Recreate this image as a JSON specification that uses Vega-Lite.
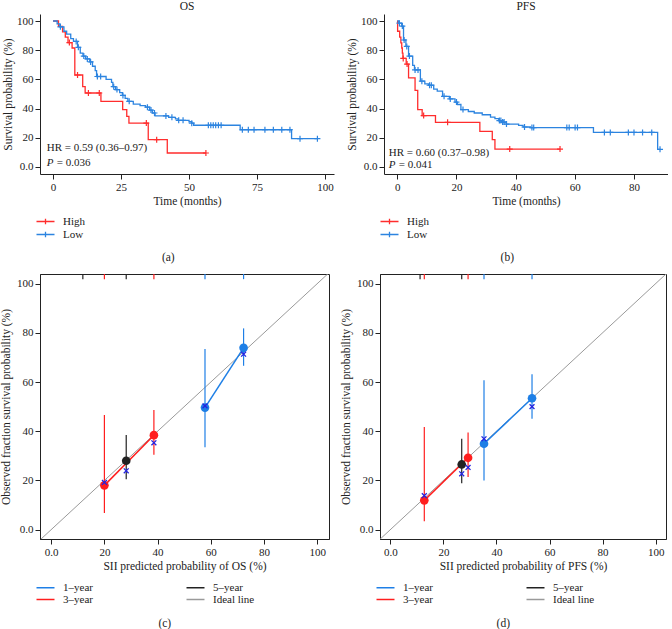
{
"$schema": "https://vega.github.io/schema/vega-lite/v6.json",
"padding": {"left": 0, "top": 0, "right": 0, "bottom": 0},
"config": {
 "font": "Liberation Serif",
 "view": {"stroke": null},
 "axis": {"labelFontSize": 11, "titleFontSize": 11.5, "titleFontWeight": "normal", "labelColor": "#222", "titleColor": "#222", "domainColor": "#222", "tickColor": "#222", "grid": false, "tickSize": 5, "labelPadding": 2, "titlePadding": 3, "labelFlush": false, "labelOverlap": false},
 "legend": {"labelFontSize": 11, "labelColor": "#222"},
 "title": {"fontSize": 11.5, "fontWeight": "normal", "color": "#222"},
 "text": {"font": "Liberation Serif"}
},
"datasets": {
 "km": [
  {"panel":"OS","group":"High","kind":"step","time":0,"surv":100},
  {"panel":"OS","group":"High","kind":"step","time":2,"surv":96.3},
  {"panel":"OS","group":"High","kind":"step","time":3.5,"surv":92.6},
  {"panel":"OS","group":"High","kind":"step","time":4.5,"surv":88.9},
  {"panel":"OS","group":"High","kind":"step","time":5.5,"surv":85.2},
  {"panel":"OS","group":"High","kind":"step","time":7,"surv":81.5},
  {"panel":"OS","group":"High","kind":"step","time":8,"surv":63},
  {"panel":"OS","group":"High","kind":"step","time":10.9,"surv":55},
  {"panel":"OS","group":"High","kind":"step","time":11.8,"surv":50.7},
  {"panel":"OS","group":"High","kind":"step","time":17.6,"surv":45},
  {"panel":"OS","group":"High","kind":"step","time":25.6,"surv":39.3},
  {"panel":"OS","group":"High","kind":"step","time":27.1,"surv":34.7},
  {"panel":"OS","group":"High","kind":"step","time":27.9,"surv":30.1},
  {"panel":"OS","group":"High","kind":"step","time":35,"surv":18.7},
  {"panel":"OS","group":"High","kind":"step","time":42,"surv":9.6},
  {"panel":"OS","group":"High","kind":"step","time":56.2,"surv":9.6},
  {"panel":"OS","group":"High","kind":"censor","time":6,"surv":85.2},
  {"panel":"OS","group":"High","kind":"censor","time":9,"surv":63},
  {"panel":"OS","group":"High","kind":"censor","time":13,"surv":50.7},
  {"panel":"OS","group":"High","kind":"censor","time":17,"surv":50.7},
  {"panel":"OS","group":"High","kind":"censor","time":34.3,"surv":30.1},
  {"panel":"OS","group":"High","kind":"censor","time":38.1,"surv":18.7},
  {"panel":"OS","group":"High","kind":"censor","time":56.2,"surv":9.6},
  {"panel":"OS","group":"Low","kind":"step","time":0,"surv":100},
  {"panel":"OS","group":"Low","kind":"step","time":1.5,"surv":98},
  {"panel":"OS","group":"Low","kind":"step","time":2.5,"surv":96},
  {"panel":"OS","group":"Low","kind":"step","time":4,"surv":93},
  {"panel":"OS","group":"Low","kind":"step","time":5,"surv":91},
  {"panel":"OS","group":"Low","kind":"step","time":6.5,"surv":88},
  {"panel":"OS","group":"Low","kind":"step","time":7.5,"surv":86},
  {"panel":"OS","group":"Low","kind":"step","time":9,"surv":82},
  {"panel":"OS","group":"Low","kind":"step","time":10,"surv":78},
  {"panel":"OS","group":"Low","kind":"step","time":11,"surv":76},
  {"panel":"OS","group":"Low","kind":"step","time":12,"surv":74},
  {"panel":"OS","group":"Low","kind":"step","time":13.5,"surv":72},
  {"panel":"OS","group":"Low","kind":"step","time":14.5,"surv":69},
  {"panel":"OS","group":"Low","kind":"step","time":15.5,"surv":66},
  {"panel":"OS","group":"Low","kind":"step","time":16,"surv":62},
  {"panel":"OS","group":"Low","kind":"step","time":19.5,"surv":60},
  {"panel":"OS","group":"Low","kind":"step","time":21.5,"surv":58},
  {"panel":"OS","group":"Low","kind":"step","time":22,"surv":55},
  {"panel":"OS","group":"Low","kind":"step","time":23,"surv":53},
  {"panel":"OS","group":"Low","kind":"step","time":24.5,"surv":51},
  {"panel":"OS","group":"Low","kind":"step","time":25.5,"surv":49},
  {"panel":"OS","group":"Low","kind":"step","time":26.5,"surv":47},
  {"panel":"OS","group":"Low","kind":"step","time":27.5,"surv":45},
  {"panel":"OS","group":"Low","kind":"step","time":29.5,"surv":43},
  {"panel":"OS","group":"Low","kind":"step","time":32,"surv":42},
  {"panel":"OS","group":"Low","kind":"step","time":34,"surv":41},
  {"panel":"OS","group":"Low","kind":"step","time":35.5,"surv":39},
  {"panel":"OS","group":"Low","kind":"step","time":36.5,"surv":37},
  {"panel":"OS","group":"Low","kind":"step","time":37.5,"surv":35},
  {"panel":"OS","group":"Low","kind":"step","time":42.5,"surv":34},
  {"panel":"OS","group":"Low","kind":"step","time":45,"surv":33},
  {"panel":"OS","group":"Low","kind":"step","time":46,"surv":32},
  {"panel":"OS","group":"Low","kind":"step","time":50,"surv":31},
  {"panel":"OS","group":"Low","kind":"step","time":51,"surv":30},
  {"panel":"OS","group":"Low","kind":"step","time":51.7,"surv":28.6},
  {"panel":"OS","group":"Low","kind":"step","time":68.8,"surv":25.5},
  {"panel":"OS","group":"Low","kind":"step","time":87.7,"surv":19.4},
  {"panel":"OS","group":"Low","kind":"step","time":97.2,"surv":19.4},
  {"panel":"OS","group":"Low","kind":"censor","time":2.7,"surv":96},
  {"panel":"OS","group":"Low","kind":"censor","time":8.5,"surv":86},
  {"panel":"OS","group":"Low","kind":"censor","time":9.3,"surv":82},
  {"panel":"OS","group":"Low","kind":"censor","time":11.3,"surv":76},
  {"panel":"OS","group":"Low","kind":"censor","time":12.6,"surv":74},
  {"panel":"OS","group":"Low","kind":"censor","time":13.8,"surv":72},
  {"panel":"OS","group":"Low","kind":"censor","time":16.3,"surv":62},
  {"panel":"OS","group":"Low","kind":"censor","time":17.5,"surv":62},
  {"panel":"OS","group":"Low","kind":"censor","time":22.3,"surv":55},
  {"panel":"OS","group":"Low","kind":"censor","time":23.5,"surv":53},
  {"panel":"OS","group":"Low","kind":"censor","time":25.7,"surv":49},
  {"panel":"OS","group":"Low","kind":"censor","time":28,"surv":45},
  {"panel":"OS","group":"Low","kind":"censor","time":34.7,"surv":41},
  {"panel":"OS","group":"Low","kind":"censor","time":36,"surv":39},
  {"panel":"OS","group":"Low","kind":"censor","time":37.3,"surv":37},
  {"panel":"OS","group":"Low","kind":"censor","time":41.5,"surv":35},
  {"panel":"OS","group":"Low","kind":"censor","time":43.7,"surv":34},
  {"panel":"OS","group":"Low","kind":"censor","time":46.2,"surv":32},
  {"panel":"OS","group":"Low","kind":"censor","time":47.8,"surv":32},
  {"panel":"OS","group":"Low","kind":"censor","time":51,"surv":30},
  {"panel":"OS","group":"Low","kind":"censor","time":57.1,"surv":28.6},
  {"panel":"OS","group":"Low","kind":"censor","time":58,"surv":28.6},
  {"panel":"OS","group":"Low","kind":"censor","time":58.9,"surv":28.6},
  {"panel":"OS","group":"Low","kind":"censor","time":59.8,"surv":28.6},
  {"panel":"OS","group":"Low","kind":"censor","time":60.8,"surv":28.6},
  {"panel":"OS","group":"Low","kind":"censor","time":61.8,"surv":28.6},
  {"panel":"OS","group":"Low","kind":"censor","time":69.6,"surv":25.5},
  {"panel":"OS","group":"Low","kind":"censor","time":71.8,"surv":25.5},
  {"panel":"OS","group":"Low","kind":"censor","time":73.9,"surv":25.5},
  {"panel":"OS","group":"Low","kind":"censor","time":77.9,"surv":25.5},
  {"panel":"OS","group":"Low","kind":"censor","time":81,"surv":25.5},
  {"panel":"OS","group":"Low","kind":"censor","time":84.1,"surv":25.5},
  {"panel":"OS","group":"Low","kind":"censor","time":87.1,"surv":25.5},
  {"panel":"OS","group":"Low","kind":"censor","time":90.8,"surv":19.4},
  {"panel":"OS","group":"Low","kind":"censor","time":97.2,"surv":19.4},
  {"panel":"PFS","group":"High","kind":"step","time":0,"surv":100},
  {"panel":"PFS","group":"High","kind":"step","time":0.1,"surv":93},
  {"panel":"PFS","group":"High","kind":"step","time":0.8,"surv":89},
  {"panel":"PFS","group":"High","kind":"step","time":1.2,"surv":85},
  {"panel":"PFS","group":"High","kind":"step","time":1.5,"surv":81.5},
  {"panel":"PFS","group":"High","kind":"step","time":1.7,"surv":78},
  {"panel":"PFS","group":"High","kind":"step","time":1.9,"surv":74.4},
  {"panel":"PFS","group":"High","kind":"step","time":3,"surv":70.5},
  {"panel":"PFS","group":"High","kind":"step","time":3.8,"surv":61},
  {"panel":"PFS","group":"High","kind":"step","time":6,"surv":52.5},
  {"panel":"PFS","group":"High","kind":"step","time":6.9,"surv":39.3},
  {"panel":"PFS","group":"High","kind":"step","time":8.4,"surv":35.2},
  {"panel":"PFS","group":"High","kind":"step","time":12.9,"surv":30.6},
  {"panel":"PFS","group":"High","kind":"step","time":27.9,"surv":24.4},
  {"panel":"PFS","group":"High","kind":"step","time":32.1,"surv":18.7},
  {"panel":"PFS","group":"High","kind":"step","time":33,"surv":12.3},
  {"panel":"PFS","group":"High","kind":"step","time":55,"surv":12.3},
  {"panel":"PFS","group":"High","kind":"censor","time":2,"surv":74.4},
  {"panel":"PFS","group":"High","kind":"censor","time":3.3,"surv":70.5},
  {"panel":"PFS","group":"High","kind":"censor","time":8.9,"surv":35.2},
  {"panel":"PFS","group":"High","kind":"censor","time":17,"surv":30.6},
  {"panel":"PFS","group":"High","kind":"censor","time":38,"surv":12.3},
  {"panel":"PFS","group":"High","kind":"censor","time":55,"surv":12.3},
  {"panel":"PFS","group":"Low","kind":"step","time":0,"surv":100},
  {"panel":"PFS","group":"Low","kind":"step","time":0.5,"surv":98.5},
  {"panel":"PFS","group":"Low","kind":"step","time":1.5,"surv":96.5},
  {"panel":"PFS","group":"Low","kind":"step","time":2.1,"surv":87},
  {"panel":"PFS","group":"Low","kind":"step","time":2.9,"surv":82.6},
  {"panel":"PFS","group":"Low","kind":"step","time":3.8,"surv":76},
  {"panel":"PFS","group":"Low","kind":"step","time":5.2,"surv":69.6},
  {"panel":"PFS","group":"Low","kind":"step","time":5.8,"surv":66.5},
  {"panel":"PFS","group":"Low","kind":"step","time":7.8,"surv":58.8},
  {"panel":"PFS","group":"Low","kind":"step","time":9.3,"surv":57},
  {"panel":"PFS","group":"Low","kind":"step","time":10.5,"surv":56},
  {"panel":"PFS","group":"Low","kind":"step","time":12.3,"surv":53.4},
  {"panel":"PFS","group":"Low","kind":"step","time":13.5,"surv":52},
  {"panel":"PFS","group":"Low","kind":"step","time":15.3,"surv":48.4},
  {"panel":"PFS","group":"Low","kind":"step","time":17.6,"surv":46.6},
  {"panel":"PFS","group":"Low","kind":"step","time":19.5,"surv":44.5},
  {"panel":"PFS","group":"Low","kind":"step","time":20.3,"surv":42.8},
  {"panel":"PFS","group":"Low","kind":"step","time":21.5,"surv":39.3},
  {"panel":"PFS","group":"Low","kind":"step","time":24,"surv":38},
  {"panel":"PFS","group":"Low","kind":"step","time":26,"surv":37},
  {"panel":"PFS","group":"Low","kind":"step","time":28.7,"surv":35.8},
  {"panel":"PFS","group":"Low","kind":"step","time":31.5,"surv":34.2},
  {"panel":"PFS","group":"Low","kind":"step","time":33,"surv":33.2},
  {"panel":"PFS","group":"Low","kind":"step","time":34.3,"surv":31.8},
  {"panel":"PFS","group":"Low","kind":"step","time":35.3,"surv":30.8},
  {"panel":"PFS","group":"Low","kind":"step","time":36.8,"surv":29.4},
  {"panel":"PFS","group":"Low","kind":"step","time":41,"surv":28.5},
  {"panel":"PFS","group":"Low","kind":"step","time":42.5,"surv":27.4},
  {"panel":"PFS","group":"Low","kind":"step","time":45,"surv":27},
  {"panel":"PFS","group":"Low","kind":"step","time":66.3,"surv":23.7},
  {"panel":"PFS","group":"Low","kind":"step","time":88,"surv":12.1},
  {"panel":"PFS","group":"Low","kind":"step","time":89,"surv":12.1},
  {"panel":"PFS","group":"Low","kind":"censor","time":0.7,"surv":98.5},
  {"panel":"PFS","group":"Low","kind":"censor","time":1.7,"surv":96.5},
  {"panel":"PFS","group":"Low","kind":"censor","time":2.3,"surv":87},
  {"panel":"PFS","group":"Low","kind":"censor","time":3.2,"surv":82.6},
  {"panel":"PFS","group":"Low","kind":"censor","time":4.1,"surv":76},
  {"panel":"PFS","group":"Low","kind":"censor","time":6,"surv":66.5},
  {"panel":"PFS","group":"Low","kind":"censor","time":7,"surv":66.5},
  {"panel":"PFS","group":"Low","kind":"censor","time":8.3,"surv":58.8},
  {"panel":"PFS","group":"Low","kind":"censor","time":10.9,"surv":56},
  {"panel":"PFS","group":"Low","kind":"censor","time":11.5,"surv":56},
  {"panel":"PFS","group":"Low","kind":"censor","time":15.8,"surv":48.4},
  {"panel":"PFS","group":"Low","kind":"censor","time":17.9,"surv":46.6},
  {"panel":"PFS","group":"Low","kind":"censor","time":20,"surv":44.5},
  {"panel":"PFS","group":"Low","kind":"censor","time":22.2,"surv":39.3},
  {"panel":"PFS","group":"Low","kind":"censor","time":34.5,"surv":31.8},
  {"panel":"PFS","group":"Low","kind":"censor","time":35,"surv":31.8},
  {"panel":"PFS","group":"Low","kind":"censor","time":35.6,"surv":30.8},
  {"panel":"PFS","group":"Low","kind":"censor","time":36.1,"surv":30.8},
  {"panel":"PFS","group":"Low","kind":"censor","time":36.9,"surv":29.4},
  {"panel":"PFS","group":"Low","kind":"censor","time":43,"surv":27.4},
  {"panel":"PFS","group":"Low","kind":"censor","time":45.5,"surv":27},
  {"panel":"PFS","group":"Low","kind":"censor","time":46.1,"surv":27},
  {"panel":"PFS","group":"Low","kind":"censor","time":57.3,"surv":27},
  {"panel":"PFS","group":"Low","kind":"censor","time":58.1,"surv":27},
  {"panel":"PFS","group":"Low","kind":"censor","time":60.1,"surv":27},
  {"panel":"PFS","group":"Low","kind":"censor","time":60.9,"surv":27},
  {"panel":"PFS","group":"Low","kind":"censor","time":70,"surv":23.7},
  {"panel":"PFS","group":"Low","kind":"censor","time":72,"surv":23.7},
  {"panel":"PFS","group":"Low","kind":"censor","time":78.1,"surv":23.7},
  {"panel":"PFS","group":"Low","kind":"censor","time":80,"surv":23.7},
  {"panel":"PFS","group":"Low","kind":"censor","time":82.9,"surv":23.7},
  {"panel":"PFS","group":"Low","kind":"censor","time":86,"surv":23.7},
  {"panel":"PFS","group":"Low","kind":"censor","time":88.8,"surv":12.1}
 ],
 "cal": [
  {"panel":"c","s":"1–year","pred":57.8,"obs":49.6,"lo":33.5,"hi":73.4,"km":50.3},
  {"panel":"c","s":"1–year","pred":72.3,"obs":73.9,"lo":66.6,"hi":81.8,"km":71.3},
  {"panel":"c","s":"3–year","pred":20.0,"obs":18.0,"lo":6.8,"hi":46.6,"km":19.2},
  {"panel":"c","s":"3–year","pred":38.6,"obs":38.4,"lo":30.4,"hi":48.6,"km":35.3},
  {"panel":"c","s":"5–year","pred":28.2,"obs":28.0,"lo":20.5,"hi":38.5,"km":23.9},
  {"panel":"c","s":"5–year","pred":11.9,"obs":null,"lo":null,"hi":null,"km":null},
  {"panel":"d","s":"1–year","pred":35.3,"obs":34.9,"lo":20.0,"hi":60.7,"km":36.9},
  {"panel":"d","s":"1–year","pred":53.4,"obs":53.4,"lo":45.1,"hi":63.2,"km":50.0},
  {"panel":"d","s":"3–year","pred":12.8,"obs":11.9,"lo":3.4,"hi":41.7,"km":13.8},
  {"panel":"d","s":"3–year","pred":29.3,"obs":29.2,"lo":21.4,"hi":39.5,"km":25.3},
  {"panel":"d","s":"5–year","pred":26.9,"obs":26.5,"lo":18.9,"hi":36.9,"km":22.7},
  {"panel":"d","s":"5–year","pred":11.2,"obs":null,"lo":null,"hi":null,"km":null}
 ],
 "ideal": [
  {"s":"Ideal line","pred":-10,"obs":-10},
  {"s":"Ideal line","pred":110,"obs":110}
 ],
 "notes": [
  {"panel":"OS","hr":"HR = 0.59 (0.36–0.97)","pv":"= 0.036","time":-2.3,"y1":13.2,"y2":2.7},
  {"panel":"PFS","hr":"HR = 0.60 (0.37–0.98)","pv":"= 0.041","time":-2.9,"y1":9.8,"y2":1.4}
 ]
},
"resolve": {"scale": {"color": "independent", "x": "independent", "y": "independent"}, "legend": {"color": "independent"}},
"spacing": 8,
"vconcat": [
 {
  "spacing": 12,
  "resolve": {"scale": {"color": "independent", "x": "independent", "y": "independent"}, "legend": {"color": "independent"}},
  "hconcat": [
   {
    "title": {"text": "(a)", "orient": "bottom", "offset": 12, "anchor": "middle", "frame": "bounds"},
    "resolve": {"scale": {"color": "independent"}, "legend": {"color": "independent"}},
    "vconcat": [{
     "title": {"text": "OS", "frame": "group", "offset": 2},
     "width": 294, "height": 160,
     "layer": [
      {"data": {"name": "km"}, "transform": [{"filter": "datum.panel == 'OS' && datum.kind == 'step'"}],
       "mark": {"type": "line", "interpolate": "step-after", "strokeWidth": 1.3},
       "encoding": {
        "x": {"field": "time", "type": "quantitative", "title": "Time (months)", "scale": {"domain": [-4.8, 103.3], "nice": false, "zero": false}, "axis": {"values": [0, 25, 50, 75, 100], "labelOverlap": false}},
        "y": {"field": "surv", "type": "quantitative", "title": "Survival probability (%)", "scale": {"domain": [-4.8, 104.8], "nice": false, "zero": false}, "axis": {"values": [0, 20, 40, 60, 80, 100], "labelOverlap": false, "labelExpr": "datum.value == 0 ? '0.0' : datum.label"}},
        "color": {"field": "group", "type": "nominal", "scale": {"domain": ["High", "Low"], "range": ["#FF2D2D", "#2C84E0"]},
         "legend": {"orient": "bottom", "direction": "vertical", "title": null, "symbolType": "M-2,0L2,0M0,-0.6L0,0.6", "symbolSize": 81, "symbolStrokeWidth": 1.3, "labelOffset": 12, "rowPadding": 1, "offset": 9}}
       }},
      {"data": {"name": "km"}, "transform": [{"filter": "datum.panel == 'OS' && datum.kind == 'censor'"}],
       "mark": {"type": "point", "shape": "M-1,0L1,0M0,-1L0,1", "size": 36, "filled": false, "strokeWidth": 1.2, "opacity": 1},
       "encoding": {
        "x": {"field": "time", "type": "quantitative", "title": "Time (months)", "axis": {"values": [0, 25, 50, 75, 100], "labelOverlap": false}},
        "y": {"field": "surv", "type": "quantitative", "title": "Survival probability (%)", "axis": {"values": [0, 20, 40, 60, 80, 100], "labelOverlap": false, "labelExpr": "datum.value == 0 ? '0.0' : datum.label"}},
        "color": {"field": "group", "type": "nominal"}
       }},
      {"data": {"name": "notes"}, "transform": [{"filter": "datum.panel == 'OS'"}],
       "mark": {"type": "text", "align": "left", "baseline": "middle", "fontSize": 11, "color": "#222"},
       "encoding": {"x": {"field": "time", "type": "quantitative", "title": "Time (months)", "axis": {"values": [0, 25, 50, 75, 100], "labelOverlap": false}}, "y": {"field": "y1", "type": "quantitative", "title": "Survival probability (%)", "axis": {"values": [0, 20, 40, 60, 80, 100], "labelOverlap": false, "labelExpr": "datum.value == 0 ? '0.0' : datum.label"}}, "text": {"field": "hr"}}},
      {"data": {"name": "notes"}, "transform": [{"filter": "datum.panel == 'OS'"}],
       "mark": {"type": "text", "align": "left", "baseline": "middle", "fontSize": 11, "fontStyle": "italic", "color": "#222"},
       "encoding": {"x": {"field": "time", "type": "quantitative", "title": "Time (months)", "axis": {"values": [0, 25, 50, 75, 100], "labelOverlap": false}}, "y": {"field": "y2", "type": "quantitative", "title": "Survival probability (%)", "axis": {"values": [0, 20, 40, 60, 80, 100], "labelOverlap": false, "labelExpr": "datum.value == 0 ? '0.0' : datum.label"}}, "text": {"value": "P"}}},
      {"data": {"name": "notes"}, "transform": [{"filter": "datum.panel == 'OS'"}],
       "mark": {"type": "text", "align": "left", "baseline": "middle", "fontSize": 11, "dx": 10, "color": "#222"},
       "encoding": {"x": {"field": "time", "type": "quantitative", "title": "Time (months)", "axis": {"values": [0, 25, 50, 75, 100], "labelOverlap": false}}, "y": {"field": "y2", "type": "quantitative", "title": "Survival probability (%)", "axis": {"values": [0, 20, 40, 60, 80, 100], "labelOverlap": false, "labelExpr": "datum.value == 0 ? '0.0' : datum.label"}}, "text": {"field": "pv"}}}
     ]
    }]
   },
   {
    "title": {"text": "(b)", "orient": "bottom", "offset": 12, "anchor": "middle", "frame": "bounds"},
    "resolve": {"scale": {"color": "independent"}, "legend": {"color": "independent"}},
    "vconcat": [{
     "title": {"text": "PFS", "frame": "group", "offset": 2},
     "width": 284, "height": 160,
     "layer": [
      {"data": {"name": "km"}, "transform": [{"filter": "datum.panel == 'PFS' && datum.kind == 'step'"}],
       "mark": {"type": "line", "interpolate": "step-after", "strokeWidth": 1.3},
       "encoding": {
        "x": {"field": "time", "type": "quantitative", "title": "Time (months)", "scale": {"domain": [-4.5, 91.5], "nice": false, "zero": false}, "axis": {"values": [0, 20, 40, 60, 80], "labelOverlap": false}},
        "y": {"field": "surv", "type": "quantitative", "title": "Survival probability (%)", "scale": {"domain": [-4.8, 104.8], "nice": false, "zero": false}, "axis": {"values": [0, 20, 40, 60, 80, 100], "labelOverlap": false, "labelExpr": "datum.value == 0 ? '0.0' : datum.label"}},
        "color": {"field": "group", "type": "nominal", "scale": {"domain": ["High", "Low"], "range": ["#FF2D2D", "#2C84E0"]},
         "legend": {"orient": "bottom", "direction": "vertical", "title": null, "symbolType": "M-2,0L2,0M0,-0.6L0,0.6", "symbolSize": 81, "symbolStrokeWidth": 1.3, "labelOffset": 12, "rowPadding": 1, "offset": 9}}
       }},
      {"data": {"name": "km"}, "transform": [{"filter": "datum.panel == 'PFS' && datum.kind == 'censor'"}],
       "mark": {"type": "point", "shape": "M-1,0L1,0M0,-1L0,1", "size": 36, "filled": false, "strokeWidth": 1.2, "opacity": 1},
       "encoding": {
        "x": {"field": "time", "type": "quantitative", "title": "Time (months)", "axis": {"values": [0, 20, 40, 60, 80], "labelOverlap": false}},
        "y": {"field": "surv", "type": "quantitative", "title": "Survival probability (%)", "axis": {"values": [0, 20, 40, 60, 80, 100], "labelOverlap": false, "labelExpr": "datum.value == 0 ? '0.0' : datum.label"}},
        "color": {"field": "group", "type": "nominal"}
       }},
      {"data": {"name": "notes"}, "transform": [{"filter": "datum.panel == 'PFS'"}],
       "mark": {"type": "text", "align": "left", "baseline": "middle", "fontSize": 11, "color": "#222"},
       "encoding": {"x": {"field": "time", "type": "quantitative", "title": "Time (months)", "axis": {"values": [0, 20, 40, 60, 80], "labelOverlap": false}}, "y": {"field": "y1", "type": "quantitative", "title": "Survival probability (%)", "axis": {"values": [0, 20, 40, 60, 80, 100], "labelOverlap": false, "labelExpr": "datum.value == 0 ? '0.0' : datum.label"}}, "text": {"field": "hr"}}},
      {"data": {"name": "notes"}, "transform": [{"filter": "datum.panel == 'PFS'"}],
       "mark": {"type": "text", "align": "left", "baseline": "middle", "fontSize": 11, "fontStyle": "italic", "color": "#222"},
       "encoding": {"x": {"field": "time", "type": "quantitative", "title": "Time (months)", "axis": {"values": [0, 20, 40, 60, 80], "labelOverlap": false}}, "y": {"field": "y2", "type": "quantitative", "title": "Survival probability (%)", "axis": {"values": [0, 20, 40, 60, 80, 100], "labelOverlap": false, "labelExpr": "datum.value == 0 ? '0.0' : datum.label"}}, "text": {"value": "P"}}},
      {"data": {"name": "notes"}, "transform": [{"filter": "datum.panel == 'PFS'"}],
       "mark": {"type": "text", "align": "left", "baseline": "middle", "fontSize": 11, "dx": 10, "color": "#222"},
       "encoding": {"x": {"field": "time", "type": "quantitative", "title": "Time (months)", "axis": {"values": [0, 20, 40, 60, 80], "labelOverlap": false}}, "y": {"field": "y2", "type": "quantitative", "title": "Survival probability (%)", "axis": {"values": [0, 20, 40, 60, 80, 100], "labelOverlap": false, "labelExpr": "datum.value == 0 ? '0.0' : datum.label"}}, "text": {"field": "pv"}}}
     ]
    }]
   }
  ]
 },
 {
  "spacing": 10,
  "resolve": {"scale": {"color": "independent", "x": "independent", "y": "independent"}, "legend": {"color": "independent"}},
  "hconcat": [
   {
    "title": {"text": "(c)", "orient": "bottom", "offset": 12, "anchor": "middle", "frame": "bounds"},
    "resolve": {"scale": {"color": "independent"}, "legend": {"color": "independent"}},
    "vconcat": [{
     "width": 289, "height": 265,
     "view": {"stroke": "#222", "strokeWidth": 1},
     "layer": [
      {"data": {"name": "ideal"},
       "mark": {"type": "line", "strokeWidth": 1, "clip": true},
       "encoding": {
        "x": {"field": "pred", "type": "quantitative", "title": "SII predicted probability of OS (%)", "scale": {"domain": [-4.2, 104.4], "nice": false, "zero": false}, "axis": {"values": [0, 20, 40, 60, 80, 100], "labelExpr": "datum.value == 0 ? '0.0' : datum.label"}},
        "y": {"field": "obs", "type": "quantitative", "title": "Observed fraction survival probability (%)", "scale": {"domain": [-3.8, 103.9], "nice": false, "zero": false}, "axis": {"values": [0, 20, 40, 60, 80, 100], "titlePadding": 5, "labelExpr": "datum.value == 0 ? '0.0' : datum.label"}},
        "color": {"field": "s", "type": "nominal", "scale": {"domain": ["1–year", "5–year", "3–year", "Ideal line"], "range": ["#1E7FE6", "#222222", "#FF1E1E", "#9A9A9A"]},
         "legend": {"orient": "bottom", "direction": "horizontal", "columns": 2, "columnPadding": 90, "title": null, "symbolType": "M-2,0L2,0", "symbolSize": 81, "symbolStrokeWidth": 1.5, "labelOffset": 12, "rowPadding": 0, "offset": 10}}
       }},
      {"data": {"name": "cal"}, "transform": [{"filter": "datum.panel == 'c'"}],
       "mark": {"type": "rule", "strokeWidth": 1.2},
       "encoding": {
        "x": {"field": "pred", "type": "quantitative", "title": "SII predicted probability of OS (%)"},
        "y": {"datum": 103.9, "type": "quantitative", "title": "Observed fraction survival probability (%)"},
        "y2": {"datum": 101.8},
        "color": {"field": "s", "type": "nominal"}
       }},
      {"data": {"name": "cal"}, "transform": [{"filter": "datum.panel == 'c' && isValid(datum.obs)"}],
       "mark": {"type": "rule", "strokeWidth": 1.2},
       "encoding": {
        "x": {"field": "pred", "type": "quantitative", "title": "SII predicted probability of OS (%)"},
        "y": {"field": "lo", "type": "quantitative", "title": "Observed fraction survival probability (%)"},
        "y2": {"field": "hi"},
        "color": {"field": "s", "type": "nominal"}
       }},
      {"data": {"name": "cal"}, "transform": [{"filter": "datum.panel == 'c' && isValid(datum.obs)"}],
       "mark": {"type": "line", "strokeWidth": 1.5},
       "encoding": {
        "x": {"field": "pred", "type": "quantitative", "title": "SII predicted probability of OS (%)"},
        "y": {"field": "obs", "type": "quantitative", "title": "Observed fraction survival probability (%)"},
        "color": {"field": "s", "type": "nominal"}
       }},
      {"data": {"name": "cal"}, "transform": [{"filter": "datum.panel == 'c' && isValid(datum.obs)"}],
       "mark": {"type": "point", "filled": true, "size": 75, "opacity": 1},
       "encoding": {
        "x": {"field": "pred", "type": "quantitative", "title": "SII predicted probability of OS (%)"},
        "y": {"field": "obs", "type": "quantitative", "title": "Observed fraction survival probability (%)"},
        "color": {"field": "s", "type": "nominal"}
       }},
      {"data": {"name": "cal"}, "transform": [{"filter": "datum.panel == 'c' && isValid(datum.obs)"}],
       "mark": {"type": "point", "shape": "M-1,-1L1,1M-1,1L1,-1", "filled": false, "size": 24, "strokeWidth": 1.3, "color": "#2424E0", "opacity": 1},
       "encoding": {
        "x": {"field": "pred", "type": "quantitative", "title": "SII predicted probability of OS (%)"},
        "y": {"field": "km", "type": "quantitative", "title": "Observed fraction survival probability (%)"}
       }}
     ]
    }]
   },
   {
    "title": {"text": "(d)", "orient": "bottom", "offset": 12, "anchor": "middle", "frame": "bounds"},
    "resolve": {"scale": {"color": "independent"}, "legend": {"color": "independent"}},
    "vconcat": [{
     "width": 286, "height": 265,
     "view": {"stroke": "#222", "strokeWidth": 1},
     "layer": [
      {"data": {"name": "ideal"},
       "mark": {"type": "line", "strokeWidth": 1, "clip": true},
       "encoding": {
        "x": {"field": "pred", "type": "quantitative", "title": "SII predicted probability of PFS (%)", "scale": {"domain": [-3.9, 103.9], "nice": false, "zero": false}, "axis": {"values": [0, 20, 40, 60, 80, 100], "labelExpr": "datum.value == 0 ? '0.0' : datum.label"}},
        "y": {"field": "obs", "type": "quantitative", "title": "Observed fraction survival probability (%)", "scale": {"domain": [-3.8, 103.9], "nice": false, "zero": false}, "axis": {"values": [0, 20, 40, 60, 80, 100], "titlePadding": 5, "labelExpr": "datum.value == 0 ? '0.0' : datum.label"}},
        "color": {"field": "s", "type": "nominal", "scale": {"domain": ["1–year", "5–year", "3–year", "Ideal line"], "range": ["#1E7FE6", "#222222", "#FF1E1E", "#9A9A9A"]},
         "legend": {"orient": "bottom", "direction": "horizontal", "columns": 2, "columnPadding": 90, "title": null, "symbolType": "M-2,0L2,0", "symbolSize": 81, "symbolStrokeWidth": 1.5, "labelOffset": 12, "rowPadding": 0, "offset": 10}}
       }},
      {"data": {"name": "cal"}, "transform": [{"filter": "datum.panel == 'd'"}],
       "mark": {"type": "rule", "strokeWidth": 1.2},
       "encoding": {
        "x": {"field": "pred", "type": "quantitative", "title": "SII predicted probability of PFS (%)"},
        "y": {"datum": 103.9, "type": "quantitative", "title": "Observed fraction survival probability (%)"},
        "y2": {"datum": 101.8},
        "color": {"field": "s", "type": "nominal"}
       }},
      {"data": {"name": "cal"}, "transform": [{"filter": "datum.panel == 'd' && isValid(datum.obs)"}],
       "mark": {"type": "rule", "strokeWidth": 1.2},
       "encoding": {
        "x": {"field": "pred", "type": "quantitative", "title": "SII predicted probability of PFS (%)"},
        "y": {"field": "lo", "type": "quantitative", "title": "Observed fraction survival probability (%)"},
        "y2": {"field": "hi"},
        "color": {"field": "s", "type": "nominal"}
       }},
      {"data": {"name": "cal"}, "transform": [{"filter": "datum.panel == 'd' && isValid(datum.obs)"}],
       "mark": {"type": "line", "strokeWidth": 1.5},
       "encoding": {
        "x": {"field": "pred", "type": "quantitative", "title": "SII predicted probability of PFS (%)"},
        "y": {"field": "obs", "type": "quantitative", "title": "Observed fraction survival probability (%)"},
        "color": {"field": "s", "type": "nominal"}
       }},
      {"data": {"name": "cal"}, "transform": [{"filter": "datum.panel == 'd' && isValid(datum.obs)"}],
       "mark": {"type": "point", "filled": true, "size": 75, "opacity": 1},
       "encoding": {
        "x": {"field": "pred", "type": "quantitative", "title": "SII predicted probability of PFS (%)"},
        "y": {"field": "obs", "type": "quantitative", "title": "Observed fraction survival probability (%)"},
        "color": {"field": "s", "type": "nominal"}
       }},
      {"data": {"name": "cal"}, "transform": [{"filter": "datum.panel == 'd' && isValid(datum.obs)"}],
       "mark": {"type": "point", "shape": "M-1,-1L1,1M-1,1L1,-1", "filled": false, "size": 24, "strokeWidth": 1.3, "color": "#2424E0", "opacity": 1},
       "encoding": {
        "x": {"field": "pred", "type": "quantitative", "title": "SII predicted probability of PFS (%)"},
        "y": {"field": "km", "type": "quantitative", "title": "Observed fraction survival probability (%)"}
       }}
     ]
    }]
   }
  ]
 }
]
}
